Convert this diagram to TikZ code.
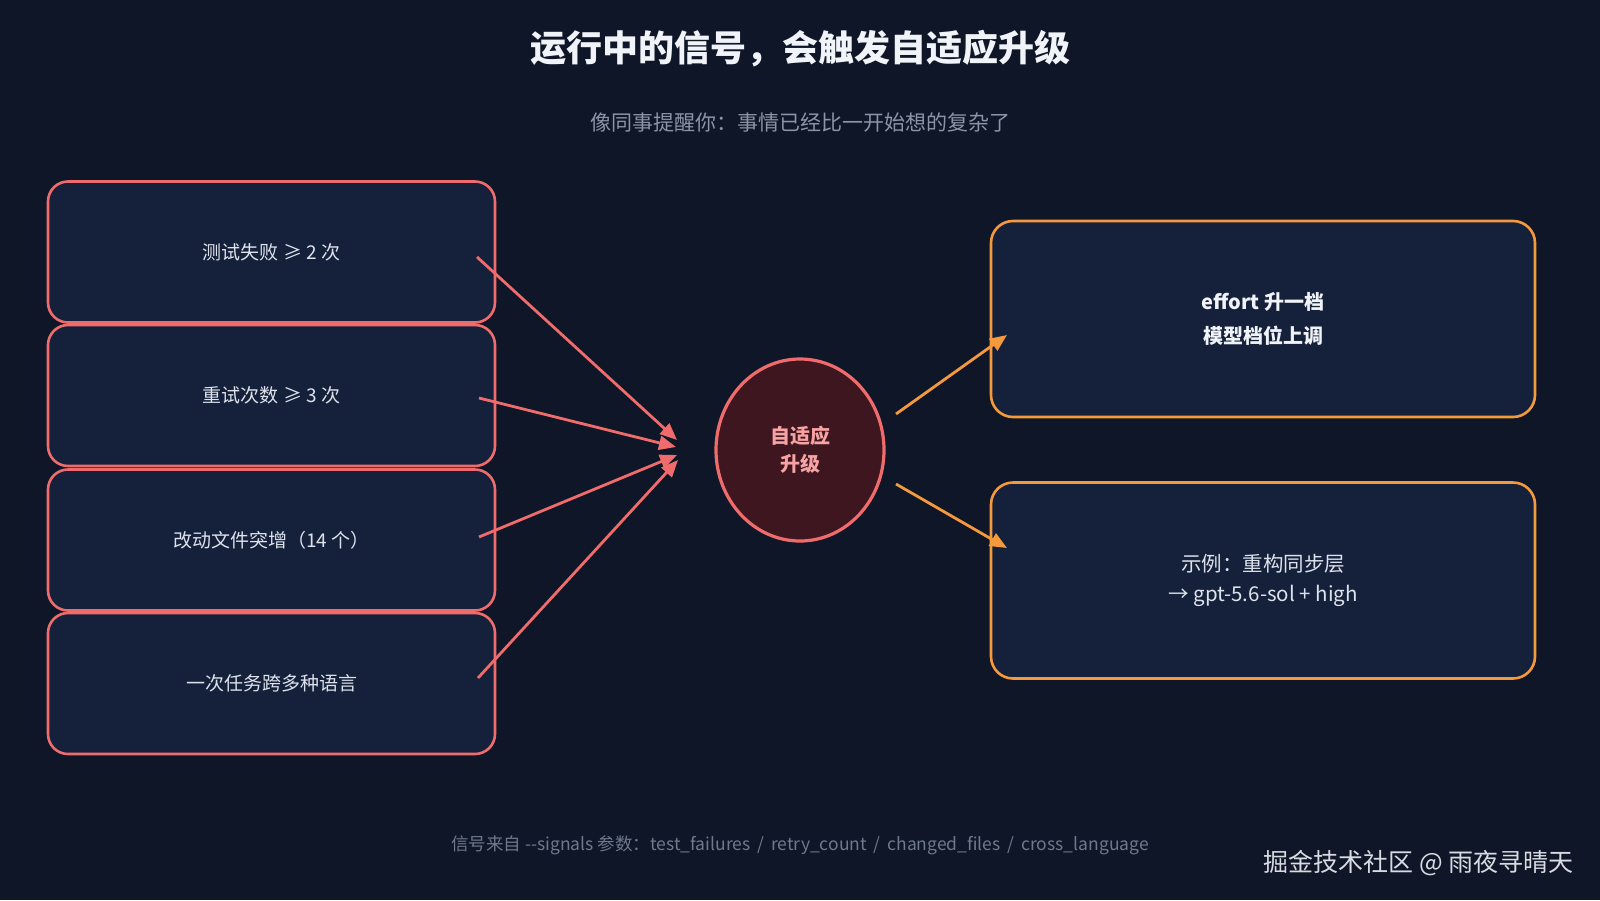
\documentclass[tikz,border=0pt]{standalone}
\usepackage{fontspec}
\setmainfont{Noto Sans CJK SC}
\usetikzlibrary{arrows.meta,shapes.geometric}
\definecolor{bg}{HTML}{0E1627}
\definecolor{boxfill}{HTML}{15203A}
\definecolor{redline}{HTML}{F06B6B}
\definecolor{orangeline}{HTML}{F5993D}
\definecolor{circfill}{HTML}{3E1620}
\definecolor{circtext}{HTML}{F7A3A3}
\definecolor{lighttext}{HTML}{DDE2EC}
\definecolor{whitetext}{HTML}{F0F3F7}
\definecolor{subgray}{HTML}{8B95A7}
\definecolor{footgray}{HTML}{6E798C}
\definecolor{markgray}{HTML}{D8DCE2}
\tikzset{
  sigbox/.style={draw=redline, line width=2.6pt, fill=boxfill, rounded corners=20pt,
    minimum width=447pt, minimum height=141pt, inner sep=0pt,
    text=lighttext, font=\fontsize{19}{24}\selectfont},
  outbox/.style={draw=orangeline, line width=2.6pt, fill=boxfill, rounded corners=22pt,
    minimum width=544pt, minimum height=196pt, inner sep=0pt, align=center},
  hub/.style={ellipse, draw=redline, line width=3.2pt, fill=circfill,
    minimum width=168pt, minimum height=182pt, inner sep=0pt, align=center,
    text=circtext, font=\fontsize{20}{28}\selectfont\bfseries},
  redarrow/.style={draw=redline, line width=2.8pt, -{Triangle[length=17pt,width=14pt]}},
  orangearrow/.style={draw=orangeline, line width=2.8pt, -{Triangle[length=17pt,width=14pt]}}
}
\begin{document}
\begin{tikzpicture}[x=1pt,y=-1pt]
\fill[bg] (0,0) rectangle (1600,900);
\useasboundingbox (0,0) rectangle (1600,900);

\node[text=whitetext, font=\fontsize{36}{40}\selectfont\bfseries] (title) at (800,49) {运行中的信号，会触发自适应升级};
\node[text=subgray, font=\fontsize{21}{24}\selectfont] (subtitle) at (800,123) {像同事提醒你：事情已经比一开始想的复杂了};

\node[sigbox] (b1) at (271.5,252) {测试失败 ≥ 2 次};
\node[sigbox] (b2) at (271.5,395.5) {重试次数 ≥ 3 次};
\node[sigbox] (b3) at (271.5,540) {改动文件突增（14 个）};
\node[sigbox] (b4) at (271.5,683.5) {一次任务跨多种语言};

\node[hub] (hub) at (800,450) {自适应\\升级};

\node[outbox, text=whitetext, font=\fontsize{20}{34}\selectfont\bfseries] (o1) at (1263,319) {effort 升一档\\模型档位上调};
\node[outbox, text=lighttext, font=\fontsize{20.5}{30}\selectfont] (o2) at (1263,580.5) {示例：重构同步层\\→ gpt-5.6-sol + high};

\coordinate (s1) at (477,257);
\coordinate (s2) at (479,398);
\coordinate (s3) at (479,537);
\coordinate (s4) at (478,678);
\coordinate (t1) at (677,440);
\coordinate (t2) at (676,447);
\coordinate (t3) at (677,455);
\coordinate (t4) at (678,460);
\draw[redarrow] (s1) -- (t1);
\draw[redarrow] (s2) -- (t2);
\draw[redarrow] (s3) -- (t3);
\draw[redarrow] (s4) -- (t4);

\coordinate (h1) at (896,414);
\coordinate (h2) at (896,484);
\coordinate (e1) at (1007,335);
\coordinate (e2) at (1007,548);
\draw[orangearrow] (h1) -- (e1);
\draw[orangearrow] (h2) -- (e2);

\node[text=footgray, font=\fontsize{17.5}{20}\selectfont] (foot) at (800,845) {信号来自 {-}{-}signals 参数：test\_failures \,/\, retry\_count \,/\, changed\_files \,/\, cross\_language};
\node[text=markgray, font=\fontsize{25}{28}\selectfont, anchor=east] (mark) at (1577,863) {掘金技术社区 @ 雨夜寻晴天};
\end{tikzpicture}
\end{document}
